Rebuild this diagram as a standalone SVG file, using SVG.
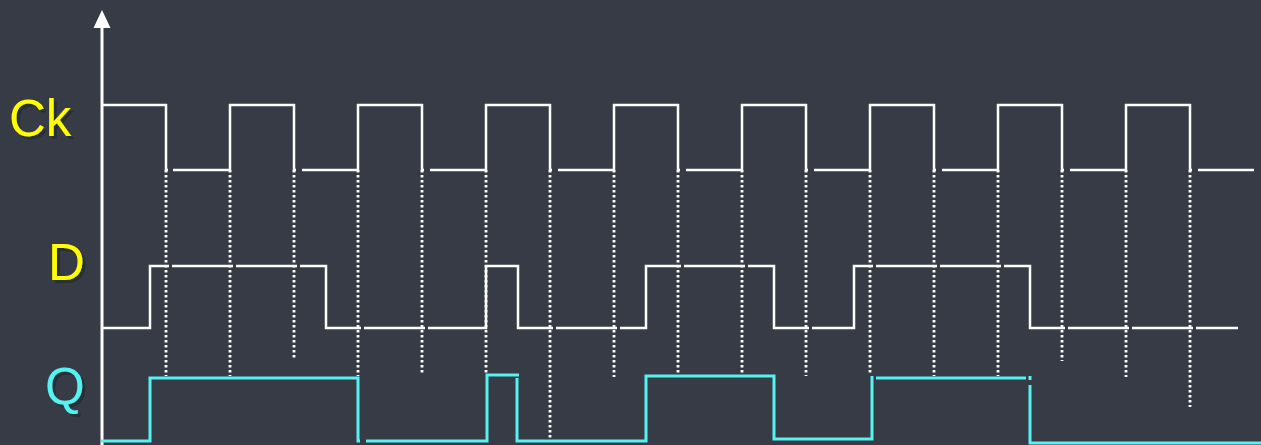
<svg xmlns="http://www.w3.org/2000/svg" width="1261" height="445" viewBox="0 0 1261 445">
<defs>
<filter id="txtshadow" x="-10%" y="-10%" width="130%" height="130%">
  <feDropShadow dx="3" dy="3" stdDeviation="0.6" flood-color="#24272e" flood-opacity="0.6"/>
</filter>
</defs>
<style>
.bg{fill:#363b45}
.lbl{font-family:"Liberation Sans",Arial,sans-serif;font-size:51px;filter:url(#txtshadow)}
.wave{fill:none;stroke:#ffffff;stroke-width:2.5;stroke-linejoin:miter;stroke-linecap:butt}
.q{fill:none;stroke:#55f2f2;stroke-width:3;stroke-linejoin:miter;stroke-linecap:butt}
.dot{stroke:#ffffff;stroke-width:2.8;stroke-dasharray:2.6 2.4;fill:none}
</style>
<rect class="bg" x="0" y="0" width="1261" height="445"/>

<g id="labels">
  <text class="lbl" x="9" y="136" fill="#ffff00">Ck</text>
  <text class="lbl" x="48" y="280" fill="#ffff00">D</text>
  <text class="lbl" x="45" y="404" fill="#55f2f2">Q</text>
</g>

<g id="axis">
  <line x1="102" y1="26" x2="102" y2="445" stroke="#ffffff" stroke-width="3"/>
  <polygon points="102,10 93.5,28 110.5,28" fill="#ffffff"/>
</g>

<g id="dotted-lines">
  <line class="dot" x1="166" y1="170" x2="166" y2="376"/>
  <line class="dot" x1="230" y1="170" x2="230" y2="376"/>
  <line class="dot" x1="294" y1="170" x2="294" y2="360"/>
  <line class="dot" x1="358" y1="170" x2="358" y2="376"/>
  <line class="dot" x1="422" y1="170" x2="422" y2="375"/>
  <line class="dot" x1="486" y1="170" x2="486" y2="373"/>
  <line class="dot" x1="550" y1="170" x2="550" y2="440"/>
  <line class="dot" x1="614" y1="170" x2="614" y2="377"/>
  <line class="dot" x1="678" y1="170" x2="678" y2="377"/>
  <line class="dot" x1="742" y1="170" x2="742" y2="377"/>
  <line class="dot" x1="806" y1="170" x2="806" y2="376"/>
  <line class="dot" x1="870" y1="170" x2="870" y2="375"/>
  <line class="dot" x1="934" y1="170" x2="934" y2="376"/>
  <line class="dot" x1="998" y1="170" x2="998" y2="376"/>
  <line class="dot" x1="1062" y1="170" x2="1062" y2="361"/>
  <line class="dot" x1="1126" y1="170" x2="1126" y2="377"/>
  <line class="dot" x1="1190" y1="170" x2="1190" y2="407"/>
</g>

<g id="ck-wave">
  <path class="wave" d="M103,105 H166 V170 H168 M173,170 H230 V105 H294 V170 H296 M302,170 H358 V105 H422 V170 H424 M430,170 H486 V105 H550 V170 H552 M558,170 H614 V105 H678 V170 H680 M686,170 H742 V105 H806 V170 H808 M814,170 H870 V105 H934 V170 H936 M942,170 H998 V105 H1062 V170 H1064 M1070,170 H1126 V105 H1190 V170 H1192 M1198,170 H1254"/>
</g>

<g id="d-wave">
  <path class="wave" d="M103,328 H150 V266 H169 M172,266 H233 M236,266 H297 M300,266 H326 V328 H361 M364,328 H425 M428,328 H486 V266 H518 V328 H553 M556,328 H617 M620,328 H646 V266 H681 M684,266 H745 M748,266 H774 V328 H809 M812,328 H854 V266 H873 M876,266 H937 M940,266 H1001 M1004,266 H1030 V328 H1065 M1068,328 H1129 M1132,328 H1193 M1196,328 H1238"/>
</g>

<g id="q-wave">
  <path class="q" d="M101,441 H150 V378 H358 V441 H360 M366,441 H487 V375 H519 M517,378 V441 H646 V376 H774 V439 H872 V376 M876,378 H1026 M1030,376 V380 M1030,385 V443 H1261"/>
</g>
</svg>
